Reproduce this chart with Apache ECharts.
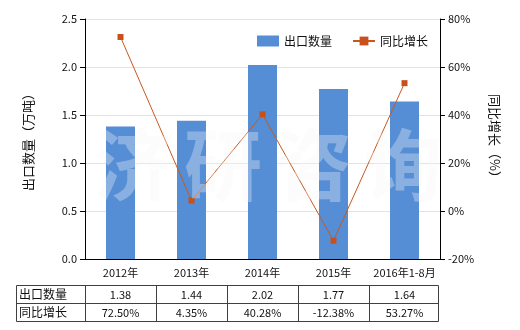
<!DOCTYPE html>
<html><head><meta charset="utf-8">
<script src="https://cdn.jsdelivr.net/npm/echarts@6/dist/echarts.min.js"></script>
<style>html,body{margin:0;padding:0;background:#fff}#c{width:520px;height:330px}</style>
</head><body><div id="c"></div>
<script>
var categories = ['2012年','2013年','2014年','2015年','2016年1-8月'];
var exportQty = [1.38, 1.44, 2.02, 1.77, 1.64];
var growth = [72.50, 4.35, 40.28, -12.38, 53.27];
var qtyLabels = ['1.38','1.44','2.02','1.77','1.64'];
var growthLabels = ['72.50%','4.35%','40.28%','-12.38%','53.27%'];
var seriesNames = ['出口数量','同比增长'];

var FONT = '"Microsoft YaHei","Noto Sans CJK SC",sans-serif';
var chart = echarts.init(document.getElementById('c'));

var gl = 85, gr = 440, tTop = 285, rowH = 18, tLeft = 16;
var colW = (gr - gl) / categories.length;
var g = [];
var lineStyle = {stroke:'#404040', lineWidth:1};
g.push({type:'rect', shape:{x:tLeft+0.5, y:tTop+0.5, width:gr-2-tLeft, height:rowH*2}, style:{fill:'none', stroke:'#404040', lineWidth:1}});
g.push({type:'line', shape:{x1:tLeft, y1:tTop+rowH+0.5, x2:gr-1.5, y2:tTop+rowH+0.5}, style:lineStyle});
for (var i=0;i<categories.length;i++){
  var x = Math.round(gl + i*colW)+0.5;
  g.push({type:'line', shape:{x1:x, y1:tTop, x2:x, y2:tTop+rowH*2}, style:lineStyle});
}
g.push({type:'text', left:tLeft+3, top:tTop+3, style:{text:seriesNames[0], font:'12px '+FONT, fill:'#111'}});
g.push({type:'text', left:tLeft+3, top:tTop+rowH+3, style:{text:seriesNames[1], font:'12px '+FONT, fill:'#111'}});
for (var i=0;i<categories.length;i++){
  var cx = gl + (i+0.5)*colW;
  g.push({type:'text', x:cx, y:tTop+rowH/2+1, style:{text:qtyLabels[i], font:'11px '+FONT, fill:'#111', align:'center', verticalAlign:'middle'}});
  g.push({type:'text', x:cx, y:tTop+rowH*1.5+1, style:{text:growthLabels[i], font:'11px '+FONT, fill:'#111', align:'center', verticalAlign:'middle'}});
}
var wm = ['济','研','咨','询'];
for (var i=0;i<wm.length;i++){
  g.push({type:'text', x:133+i*90, y:165, z:100, style:{text:wm[i], font:'bold 78px '+FONT, fill:'rgba(245,247,248,0.33)', align:'center', verticalAlign:'middle'}});
}

chart.setOption({
  animation:false,
  textStyle:{fontFamily:FONT},
  grid:{left:gl, right:520-gr, top:19, bottom:71},
  legend:{
    top:30, left:252, itemGap:20, itemWidth:22, itemHeight:11,
    textStyle:{fontSize:12, color:'#111'},
    data:[{name:seriesNames[0], icon:'rect'},{name:seriesNames[1]}]
  },
  xAxis:{
    type:'category', data:categories,
    axisLine:{lineStyle:{color:'#000'}},
    axisTick:{alignWithLabel:true, lineStyle:{color:'#000'}},
    axisLabel:{color:'#111', fontSize:11, margin:8, interval:0}
  },
  yAxis:[{
    type:'value', min:0, max:2.5, interval:0.5,
    name:'出口数量（万吨）', nameLocation:'middle', nameGap:50, nameRotate:90,
    nameTextStyle:{fontSize:13, color:'#111'},
    axisLine:{show:true, lineStyle:{color:'#000'}},
    axisTick:{show:true, lineStyle:{color:'#000'}},
    axisLabel:{color:'#111', fontSize:11, formatter:function(v){return v.toFixed(1);}},
    splitLine:{lineStyle:{color:'#e3e3e3'}}
  },{
    type:'value', min:-20, max:80, interval:20,
    name:'同比增长（%）', nameLocation:'middle', nameGap:48, nameRotate:-90,
    nameTextStyle:{fontSize:13, color:'#111'},
    axisLine:{show:true, lineStyle:{color:'#000'}},
    axisTick:{show:true, lineStyle:{color:'#000'}},
    axisLabel:{color:'#111', fontSize:11, formatter:'{value}%'},
    splitLine:{show:false}
  }],
  series:[{
    name:seriesNames[0], type:'bar', data:exportQty, barWidth:29,
    itemStyle:{color:'#558ED5'}
  },{
    name:seriesNames[1], type:'line', yAxisIndex:1, data:growth,
    symbol:'rect', symbolSize:6,
    lineStyle:{color:'#C8591C', width:1},
    itemStyle:{color:'#C8501A'}
  }],
  graphic:g
});
</script></body></html>
